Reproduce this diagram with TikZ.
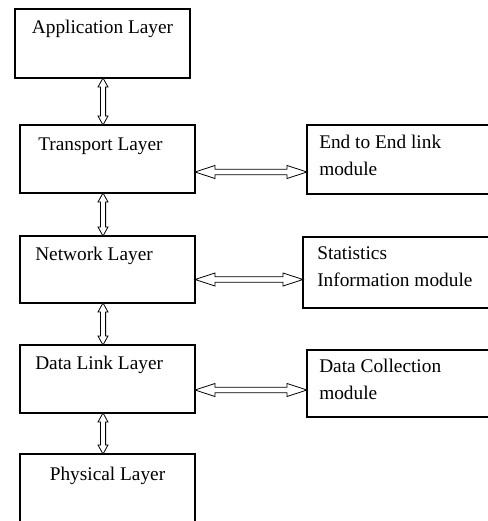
\documentclass[tikz,border=0pt]{standalone}
\usepackage{fontspec}
\setmainfont{Liberation Serif}
\usetikzlibrary{calc}

% one drawing unit = one pixel of the 488 x 521 canvas, y running downwards
\def\u{0.75pt}

\tikzset{
  layerbox/.style={draw, line width=1.1pt, minimum width=175*\u, minimum height=68*\u,
                   anchor=north west, inner sep=0pt, outer sep=0pt},
  modbox/.style={draw, line width=1.1pt, minimum width=200*\u, minimum height=69*\u,
                 anchor=north west, inner sep=0pt, outer sep=0pt},
  boxtext/.style={font=\fontsize{14.5pt}{20pt}\selectfont, inner sep=0pt, anchor=base west, align=left},
  boxtitle/.style={font=\fontsize{14.5pt}{20pt}\selectfont, inner sep=0pt, anchor=base},
  blockarrow/.style={draw, line width=0.6pt, fill=white, line join=miter}
}

% hollow two-headed arrow between the lower side of #1 and the upper side of #2
\newcommand{\layerlink}[2]{%
  \draw[blockarrow] let \p1=(ax |- #1.south), \p2=(ax |- #2.north),
        \n1={5*\u}, \n2={2.6*\u}, \n3={9*\u} in
    (\x1,\y1) -- (\x1+\n1,\y1-\n3) -- (\x1+\n2,\y1-\n3) -- (\x1+\n2,\y2+\n3)
    -- (\x1+\n1,\y2+\n3) -- (\x1,\y2) -- (\x1-\n1,\y2+\n3) -- (\x1-\n2,\y2+\n3)
    -- (\x1-\n2,\y1-\n3) -- (\x1-\n1,\y1-\n3) -- cycle;}

% hollow two-headed arrow from the right side of #1 to the left side of #2
\newcommand{\modlink}[3]{%
  \draw[blockarrow] let \p1=([yshift=-#3*\u]#1.east), \p2=(#2.west),
        \n1={6.5*\u}, \n2={2.8*\u}, \n3={20*\u} in
    (\x1,\y1) -- (\x1+\n3,\y1+\n1) -- (\x1+\n3,\y1+\n2) -- (\x2-\n3,\y1+\n2)
    -- (\x2-\n3,\y1+\n1) -- (\x2,\y1) -- (\x2-\n3,\y1-\n1) -- (\x2-\n3,\y1-\n2)
    -- (\x1+\n3,\y1-\n2) -- (\x1+\n3,\y1-\n1) -- cycle;}

\begin{document}
\begin{tikzpicture}[x=0.75pt, y=-0.75pt]
  \useasboundingbox (0,0) rectangle (488,521);
  \clip (0,0) rectangle (488,521);

  % protocol stack
  \node[layerbox, minimum height=69*\u] (app) at (15,9) {};
  \node[layerbox] (tr) at (20,125) {};
  \node[layerbox, minimum height=67*\u] (nw) at (20,236) {};
  \node[layerbox] (dl) at (20,345) {};
  \node[layerbox, minimum height=80*\u] (ph) at (20,454) {};

  \node[boxtitle] (appt) at ($(app.north)+(0,-24*\u)$) {Application Layer};
  \node[boxtext] (trt) at ($(tr.north west)+(18*\u,-25*\u)$) {Transport Layer};
  \node[boxtext] (nwt) at ($(nw.north west)+(15*\u,-24*\u)$) {Network Layer};
  \node[boxtext] (dlt) at ($(dl.north west)+(15*\u,-24*\u)$) {Data Link Layer};
  \node[boxtitle] (pht) at ($(ph.north)+(0,-26*\u)$) {Physical Layer};

  % side modules (the base anchor of a two-line node sits on its second line)
  \node[modbox] (ee) at (307,125) {};
  \node[modbox, minimum height=71*\u] (st) at (303,237) {};
  \node[modbox, minimum height=67*\u] (dc) at (307,350) {};

  \node[boxtext] (eet) at ($(ee.north west)+(12*\u,-50*\u)$) {End to End link\\module};
  \node[boxtext] (stt) at ($(st.north west)+(14*\u,-49*\u)$) {Statistics\\Information module};
  \node[boxtext] (dct) at ($(dc.north west)+(12*\u,-49*\u)$) {Data Collection\\module};

  % vertical links between the layers
  \coordinate (ax) at (103,0);
  \layerlink{app}{tr}
  \layerlink{tr}{nw}
  \layerlink{nw}{dl}
  \layerlink{dl}{ph}

  % links from the layers to the modules
  \modlink{tr}{ee}{13}
  \modlink{nw}{st}{10}
  \modlink{dl}{dc}{11}
\end{tikzpicture}
\end{document}
